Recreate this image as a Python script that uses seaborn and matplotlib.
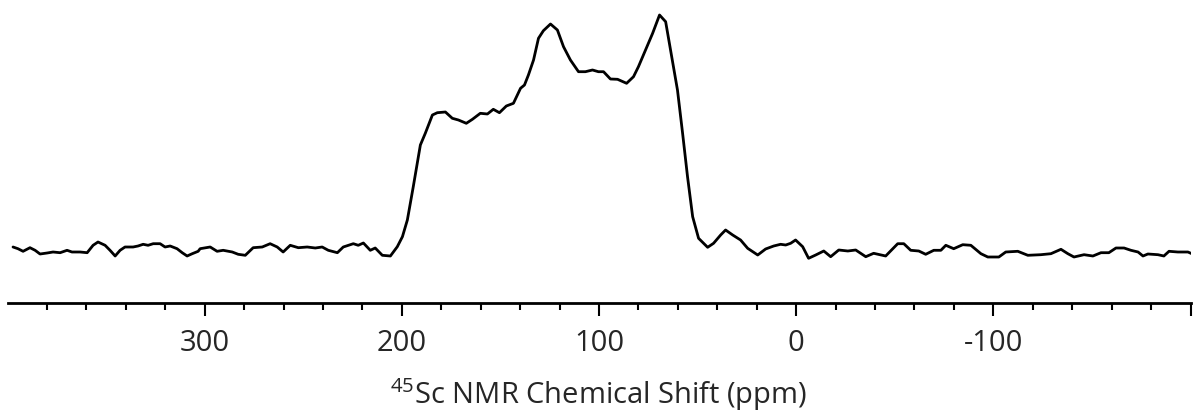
import numpy as np
import pandas as pd
import matplotlib
matplotlib.use("Agg")
import matplotlib.pyplot as plt
import seaborn as sns

# 45Sc NMR spectrum (chemical shift in ppm, intensity in arbitrary units)
ppm = [
    397.2, 394.7, 392.1, 388.6, 386.0, 383.5, 379.9, 376.9, 373.3, 369.8,
    367.3, 363.2, 359.6, 356.6, 354.1, 350.5, 348.0, 345.4, 342.9, 340.4,
    336.3, 333.8, 331.2, 328.7, 326.1, 322.6, 320.1, 317.5, 314.0, 311.4,
    308.9, 306.3, 303.3, 302.3, 297.2, 293.7, 290.6, 286.0, 283.0, 279.4,
    275.4, 270.8, 266.8, 263.2, 260.2, 256.6, 252.5, 248.0, 243.9, 240.4,
    237.3, 232.7, 229.7, 224.6, 222.1, 219.5, 216.0, 213.5, 209.9, 205.8,
    202.3, 199.7, 197.2, 194.2, 190.6, 188.1, 184.5, 182.0, 177.9, 174.4,
    171.3, 167.3, 164.2, 160.2, 156.6, 153.6, 150.5, 147.0, 143.4, 139.8,
    137.8, 135.8, 133.2, 130.7, 128.2, 124.6, 121.1, 118.0, 114.5, 110.4,
    106.9, 103.3, 100.3, 97.7, 94.2, 90.6, 86.0, 82.5, 80.0, 76.4,
    72.8, 69.3, 66.2, 63.7, 60.2, 57.6, 55.1, 52.5, 49.5, 44.9,
    41.9, 38.3, 35.8, 32.2, 28.2, 24.6, 19.5, 15.5, 11.4, 7.9,
    5.3, 2.8, 0.3, -3.3, -6.3, -9.9, -14.0, -17.5, -21.6, -26.2,
    -30.2, -35.3, -39.3, -45.4, -51.5, -54.6, -58.1, -62.2, -65.7, -69.8,
    -73.4, -75.9, -79.9, -84.5, -88.6, -93.7, -97.2, -102.8, -106.3, -112.4,
    -117.5, -124.1, -129.2, -134.3, -137.8, -140.9, -146.0, -150.5, -154.6, -158.6,
    -162.2, -166.3, -169.8, -173.4, -175.9, -178.4, -183.5, -186.5, -189.1, -193.6,
    -198.7, -201.8,
]
intensity = [
    3, 1.3, -1.3, 2.3, -0.3, -4, -3, -2, -2.7, -0.3,
    -2, -2, -2.7, 4.7, 8, 4.7, -0.3, -6, -0.3, 3,
    3, 4, 5.7, 4.7, 6.3, 6.3, 3, 4, 1.3, -2.7,
    -6, -3.7, -1.3, 1.3, 3, -1.3, -0.3, -2, -4.3, -5.3,
    2.3, 3, 6.3, 3, -2, 4.7, 2.3, 3, 2, 3,
    -0.3, -2.7, 3, 6.3, 4.7, 7, -0.3, 2, -5.3, -6,
    3.3, 13.3, 30, 63.3, 105, 116.7, 135, 137.3, 138, 131.7,
    130, 126.7, 130.7, 136.7, 136, 140.7, 137.3, 144, 146.7, 161.7,
    165, 175, 190, 211.7, 219.3, 226, 220, 203.3, 190, 178.3,
    178.3, 180, 178.3, 178.3, 171, 170.7, 166.7, 173.3, 183.3, 200,
    216.7, 235, 228.3, 200, 160, 116.7, 73.3, 33.3, 11.7, 2.7,
    6.7, 15, 20, 15, 10, 1.7, -5, 1, 4, 5.7,
    5, 6.7, 10, 3.3, -8.3, -5, -1, -6.7, 0, -1,
    0, -6.7, -3.3, -6, 6.3, 6.3, -0.3, -1, -4.3, -0.3,
    -0.3, 4.7, 1.3, 5.3, 4.7, -3.7, -7, -7, -2, -1.3,
    -5.3, -4.7, -3.7, 0.7, -3.7, -7, -4.7, -6, -2.7, -2.7,
    2, 2, -0.3, -2, -6, -4, -4.7, -6, -1.3, -2,
    -2, -4.7,
]

major_ticks = [300, 200, 100, 0, -100, -200]
major_labels = ["300", "200", "100", "0", "-100", ""]
minor_ticks = [v for v in range(380, -200, -20) if v % 100 != 0]

sns.set_style("white")
plt.rcParams["font.family"] = ["Open Sans", "DejaVu Sans"]
plt.rcParams["mathtext.fontset"] = "custom"
plt.rcParams["mathtext.rm"] = "Open Sans"

df = pd.DataFrame({"ppm": ppm, "intensity": intensity})

fig = plt.figure(figsize=(11.94, 4.17), dpi=100)
ax = fig.add_axes([7.5 / 1194, 114 / 417, 1183 / 1194, 303 / 417])
sns.lineplot(data=df, x="ppm", y="intensity", sort=False, estimator=None,
             color="black", linewidth=2.0, ax=ax)

ax.set_xlim(400, -200)
ax.set_ylim(-53, 250)
sns.despine(ax=ax, left=True, top=True, right=True)
ax.spines["bottom"].set_linewidth(2.0)
ax.spines["bottom"].set_color("black")

ax.set_xticks(major_ticks)
ax.set_xticklabels(major_labels)
ax.set_xticks(minor_ticks, minor=True)
ax.set_yticks([])
ax.tick_params(axis="x", which="major", direction="out", length=9, width=1.5,
               color="black", labelsize=21, pad=9.5, bottom=True)
ax.tick_params(axis="x", which="minor", direction="out", length=5, width=1.5,
               color="black", bottom=True)
ax.set_ylabel("")
ax.set_xlabel(r"$^{45}$Sc NMR Chemical Shift (ppm)", fontsize=21, labelpad=13)

fig.savefig("out.png", dpi=100)
